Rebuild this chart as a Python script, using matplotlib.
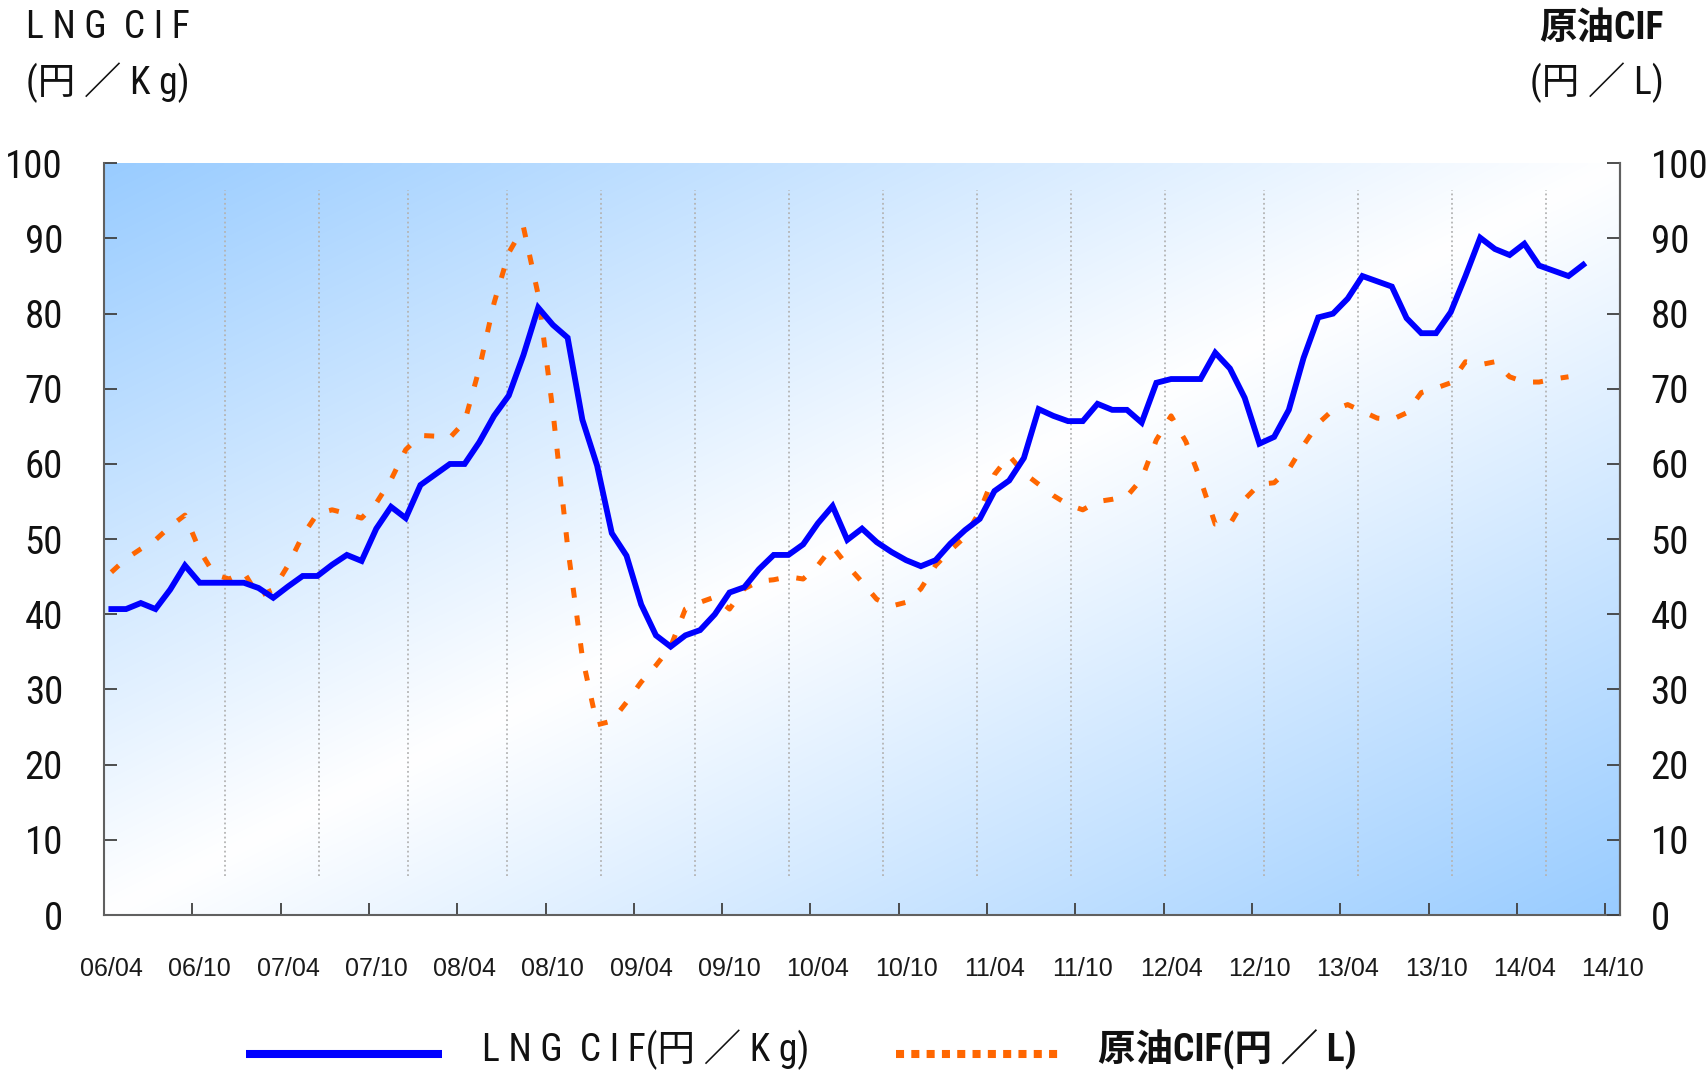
import numpy as np
import pandas as pd
import matplotlib
matplotlib.use("Agg")
import matplotlib.pyplot as plt
from matplotlib import font_manager as fm
from matplotlib.lines import Line2D

# ---------------- data ----------------
months = [p.strftime("%y/%m") for p in pd.period_range("2006-04", "2014-10", freq="M")]
tick_labels = months[::6]

lng_cif = [40.7, 40.7, 41.5, 40.7, 43.3, 46.5, 44.2, 44.2, 44.2, 44.2,
           43.5, 42.2, 43.7, 45.1, 45.1, 46.6, 47.9, 47.1, 51.4, 54.3,
           52.8, 57.2, 58.6, 60.0, 60.0, 62.9, 66.4, 69.1, 74.5, 80.8,
           78.5, 76.8, 65.9, 59.8, 50.8, 47.8, 41.3, 37.2, 35.7, 37.2,
           37.9, 40.0, 42.9, 43.6, 46.0, 47.9, 47.9, 49.3, 52.1, 54.4,
           49.9, 51.4, 49.6, 48.3, 47.2, 46.4, 47.2, 49.4, 51.2, 52.7,
           56.4, 57.8, 60.8, 67.3, 66.4, 65.7, 65.7, 68.0, 67.2, 67.2,
           65.5, 70.8, 71.3, 71.3, 71.3, 74.8, 72.7, 68.8, 62.7, 63.6,
           67.2, 74.1, 79.5, 80.0, 82.0, 85.0, 84.3, 83.6, 79.4, 77.4,
           77.4, 80.2, 85.0, 90.1, 88.6, 87.8, 89.3, 86.4, 85.7, 85.0,
           86.5]

crude_cif = [45.6, 47.4, 48.7, 49.9, 51.7, 53.2, 48.5, 45.3, 44.7, 45.6,
             42.4, 43.3, 46.5, 50.5, 53.4, 53.9, 53.4, 52.8, 54.8, 57.9,
             61.9, 63.8, 63.7, 63.5, 65.6, 72.7, 81.4, 88.1, 91.5, 82.5,
             67.0, 49.0, 34.3, 25.3, 25.8, 28.3, 31.0, 33.2, 35.7, 40.7,
             41.6, 42.3, 40.7, 43.4, 44.4, 44.6, 45.0, 44.7, 46.5, 49.0,
             46.5, 44.3, 42.0, 41.1, 41.6, 43.4, 46.5, 48.5, 50.3, 53.7,
             58.6, 61.1, 58.8, 57.3, 55.8, 54.6, 53.9, 55.0, 55.3, 55.7,
             58.0, 63.2, 66.4, 63.0, 57.9, 52.0, 52.0, 55.3, 57.3, 57.5,
             59.3, 62.5, 65.4, 67.2, 67.9, 67.0, 66.1, 65.9, 66.8, 69.5,
             70.1, 70.8, 73.6, 73.2, 73.6, 71.6, 70.9, 70.9, 71.3, 71.6]

y_ticks = [0, 10, 20, 30, 40, 50, 60, 70, 80, 90, 100]

# decorative dotted vertical guides (category units)
guide_x = [7.72, 14.1, 20.13, 26.88, 33.26, 39.65, 46.04, 52.42, 58.8,
           65.2, 71.58, 78.3, 84.7, 91.08, 97.46]

# ---------------- fonts ----------------
def pick_narrow():
    prefs = []
    for f in fm.fontManager.ttflist:
        if f.style != "normal":
            continue
        nm = f.name
        st = str(f.stretch)
        if "Narrow" in nm or "Condensed" in nm or st in ("condensed", "semi-condensed",
                                                           "extra-condensed"):
            score = 0
            if "Liberation" in nm:
                score = 3
            elif "Roboto" in nm:
                score = 2
            elif "DejaVu" in nm:
                score = 1
            prefs.append((score, f.weight == 400 or f.weight == "normal", nm, st))
    if not prefs:
        return None
    prefs.sort(reverse=True)
    return prefs[0][2], prefs[0][3]

narrow = pick_narrow()
if narrow is not None:
    NARROW, NSTRETCH = narrow
    YT_SIZE = 28
    T_SIZE = 27
else:
    NARROW, NSTRETCH = "Liberation Sans", "normal"
    YT_SIZE = 24
    T_SIZE = 25
CJK = "Noto Sans CJK JP"
TFAM = [NARROW, CJK, "DejaVu Sans"]

W, H = 1708, 1071
fig = plt.figure(figsize=(W / 100, H / 100), dpi=100)
fig.patch.set_facecolor("white")

def fx(px):
    return px / W

def fy(py):
    return 1 - py / H

ax_left, ax_right, ax_top, ax_bot = 104, 1620, 163.3, 915
ax = fig.add_axes([fx(ax_left), fy(ax_bot), fx(ax_right - ax_left), (ax_bot - ax_top) / H])

n = len(months)
xmin, xmax = -0.5, n - 0.5
ax.set_xlim(xmin, xmax)
ax.set_ylim(0, 100)

# gradient background (blue - white - blue along the diagonal)
gw, gh = 400, 200
u = np.linspace(0, 1, gw)[None, :]
v = np.linspace(0, 1, gh)[:, None]
t = (u + v) / 2.0
d = np.clip(np.abs(t - 0.5) * 2.0, 0, 1)
blue = np.array([153, 204, 255]) / 255.0
white = np.array([1.0, 1.0, 1.0])
img = white[None, None, :] * (1 - d[..., None]) + blue[None, None, :] * d[..., None]
ax.imshow(img, extent=(xmin, xmax, 0, 100), origin="upper", aspect="auto",
          zorder=0, interpolation="bilinear")

# dotted guides
ax.vlines(guide_x, 5.2, 96.4, colors="#b4b4b4", linestyles=(0, (1, 1.6)),
          linewidth=1.3, zorder=1)

# data lines
ax.plot(np.arange(len(crude_cif)), crude_cif, color="#FF6600", lw=3.6,
        linestyle=(0, (2.0, 3.6)), dash_capstyle="butt", zorder=3)
ax.plot(np.arange(len(lng_cif)), lng_cif, color="#0000FF", lw=4.2,
        solid_joinstyle="miter", zorder=4)

# spines
ax.spines["top"].set_visible(False)
for s in ["left", "right", "bottom"]:
    ax.spines[s].set_color("#606060")
    ax.spines[s].set_linewidth(1.5)

# x ticks: labels at category centres, marks at half-year boundaries
ax.set_xticks(np.arange(0, n, 6))
ax.set_xticklabels(tick_labels, fontfamily="Liberation Sans", fontsize=18)
ax.tick_params(axis="x", which="major", length=0, pad=30, colors="#1a1a1a")
ax.set_xticks(np.arange(0, n + 1, 6) - 0.5, minor=True)
ax.tick_params(axis="x", which="minor", direction="in", length=8.6, width=1.3,
               color="#404040")

# left y axis
ax.set_yticks(y_ticks)
ax.set_yticklabels([str(v) for v in y_ticks], fontfamily=NARROW, fontstretch=NSTRETCH,
                   fontsize=YT_SIZE)
ax.tick_params(axis="y", which="major", direction="in", length=9.4, width=1.3,
               color="#404040", pad=29.5, labelcolor="#111111")

# right y axis
ax2 = ax.twinx()
ax2.set_ylim(0, 100)
ax2.set_yticks(y_ticks)
ax2.set_yticklabels([str(v) for v in y_ticks], fontfamily=NARROW, fontstretch=NSTRETCH,
                    fontsize=YT_SIZE)
ax2.tick_params(axis="y", direction="in", length=9.4, width=1.3, color="#404040",
                pad=22, labelcolor="#111111")
for s in ["top", "left", "bottom"]:
    ax2.spines[s].set_visible(False)
ax2.spines["right"].set_color("#606060")
ax2.spines["right"].set_linewidth(1.5)

# axis titles
tkw = dict(family=TFAM, fontstretch=NSTRETCH, fontsize=T_SIZE, va="center", color="#111111")
fig.text(fx(26), fy(28), "L N G  C I F", ha="left", **tkw)
fig.text(fx(26), fy(83), "(円 ／ K g)", ha="left", **tkw)
fig.text(fx(1664), fy(28), "原油CIF", ha="right", fontweight="bold", **tkw)
fig.text(fx(1664), fy(83), "(円 ／ L)", ha="right", **tkw)

# legend (drawn manually)
fig.add_artist(Line2D([fx(246), fx(442)], [fy(1054), fy(1054)], color="#0000FF",
                      lw=5.8, solid_capstyle="butt"))
fig.text(fx(482), fy(1050), "L N G  C I F(円 ／ K g)", ha="left", **tkw)
fig.add_artist(Line2D([fx(896), fx(1062)], [fy(1054), fy(1054)], color="#FF6600",
                      lw=5.8, linestyle=(0, (1, 0.9)), dash_capstyle="butt"))
fig.text(fx(1098), fy(1050), "原油CIF(円 ／ L)", ha="left", fontweight="bold", **tkw)

fig.savefig("out.png", dpi=100, facecolor="white")
